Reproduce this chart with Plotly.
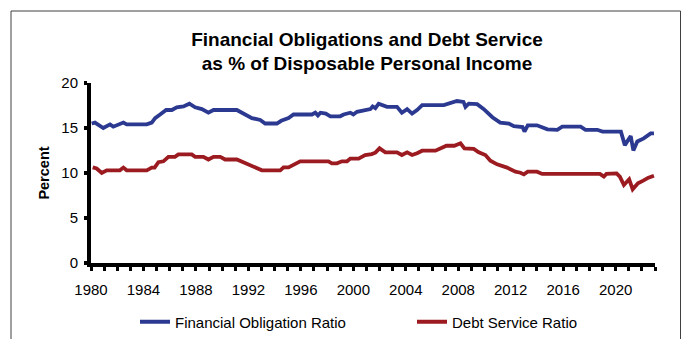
import plotly.graph_objects as go

# ---- data ----
for_years = [1980.05, 1980.3, 1980.94, 1981.45, 1981.7, 1982.47, 1982.72, 1984.25, 1984.63, 1984.89,
             1985.27, 1985.73, 1986.16, 1986.54, 1987.05, 1987.5, 1987.94, 1988.45, 1988.95, 1989.34,
             1991.12, 1991.37, 1991.76, 1992.27, 1992.9, 1993.28, 1994.17, 1994.5, 1995.06, 1995.44,
             1996.85, 1997.1, 1997.3, 1997.5, 1997.9, 1998.25, 1999.0, 1999.26, 1999.77, 2000.0,
             2000.28, 2000.79, 2001.3, 2001.47, 2001.68, 2001.93, 2002.2, 2002.57, 2003.33, 2003.7,
             2004.1, 2004.48, 2004.86, 2005.25, 2006.9, 2007.2, 2007.9, 2008.4, 2008.55, 2008.8,
             2009.44, 2009.95, 2010.6, 2011.2, 2011.86, 2012.24, 2012.9, 2013.05, 2013.3, 2014.0,
             2014.8, 2015.55, 2015.93, 2017.33, 2017.7, 2018.6, 2019.0, 2020.4, 2020.7, 2021.15,
             2021.35, 2021.65, 2022.14, 2022.67, 2022.92]
for_values = [15.5, 15.6, 15.0, 15.4, 15.15, 15.6, 15.4, 15.4, 15.6, 16.1,
              16.5, 17.0, 17.0, 17.3, 17.4, 17.7, 17.3, 17.1, 16.7, 17.0,
              17.0, 16.8, 16.6, 16.1, 15.9, 15.5, 15.5, 15.8, 16.1, 16.5,
              16.5, 16.7, 16.4, 16.7, 16.6, 16.3, 16.3, 16.5, 16.7, 16.5,
              16.8, 16.95, 17.1, 17.4, 17.2, 17.7, 17.55, 17.35, 17.35, 16.7,
              17.1, 16.6, 17.0, 17.55, 17.55, 17.7, 18.0, 17.9, 17.35, 17.7,
              17.65, 17.1, 16.2, 15.6, 15.5, 15.2, 15.1, 14.6, 15.3, 15.3,
              14.85, 14.8, 15.15, 15.15, 14.8, 14.8, 14.6, 14.6, 13.1, 14.1,
              12.5, 13.5, 13.85, 14.4, 14.4]

dsr_years = [1980.13, 1980.43, 1980.82, 1981.2, 1982.2, 1982.47, 1982.72, 1984.25, 1984.63, 1984.85,
             1985.14, 1985.52, 1985.9, 1986.4, 1986.66, 1987.68, 1987.94, 1988.57, 1988.95, 1989.34,
             1989.85, 1990.23, 1991.12, 1991.5, 1991.88, 1992.39, 1993.03, 1994.43, 1994.68, 1995.06,
             1995.44, 1995.95, 1998.1, 1998.37, 1998.75, 1999.13, 1999.52, 1999.77, 2000.4, 2000.9,
             2001.4, 2001.68, 2002.0, 2002.44, 2003.33, 2003.7, 2004.1, 2004.48, 2004.86, 2005.25,
             2006.26, 2006.64, 2007.1, 2007.7, 2008.17, 2008.47, 2009.18, 2009.56, 2010.07, 2010.45,
             2010.96, 2011.72, 2012.36, 2012.74, 2013.0, 2013.3, 2014.0, 2014.4, 2018.8, 2019.1,
             2019.3, 2020.07, 2020.32, 2020.63, 2021.03, 2021.3, 2021.7, 2022.1, 2022.5, 2022.92]
dsr_values = [10.63, 10.5, 10.0, 10.3, 10.3, 10.6, 10.3, 10.3, 10.6, 10.6,
              11.2, 11.3, 11.8, 11.8, 12.07, 12.07, 11.8, 11.8, 11.5, 11.8,
              11.8, 11.5, 11.5, 11.25, 11.07, 10.7, 10.3, 10.3, 10.63, 10.63,
              10.96, 11.3, 11.3, 11.07, 11.07, 11.3, 11.3, 11.6, 11.6, 12.0,
              12.1, 12.26, 12.74, 12.3, 12.3, 12.0, 12.3, 12.0, 12.2, 12.48,
              12.48, 12.74, 13.03, 13.03, 13.3, 12.74, 12.67, 12.3, 12.0, 11.37,
              10.96, 10.6, 10.15, 10.03, 9.85, 10.15, 10.15, 9.9, 9.9, 9.6,
              9.9, 9.96, 9.6, 8.67, 9.3, 8.19, 8.85, 9.15, 9.48, 9.7]

x_tick_years = list(range(1980, 2024))
x_tick_labels = [str(y) if (y - 1980) % 4 == 0 and y <= 2020 else "" for y in x_tick_years]
y_tick_values = [0, 5, 10, 15, 20]

series_names = ["Financial Obligation Ratio", "Debt Service Ratio"]
title_text = "Financial Obligations and Debt Service<br>as % of Disposable Personal Income"

FONT = "Liberation Sans, Arial, sans-serif"

fig = go.Figure()
fig.add_trace(go.Scatter(x=for_years, y=for_values, mode="lines", name=series_names[0],
                         line=dict(color="#2B3990", width=3.8)))
fig.add_trace(go.Scatter(x=dsr_years, y=dsr_values, mode="lines", name=series_names[1],
                         line=dict(color="#9B1B20", width=3.8)))

W, H = 688, 339
ml, mr, mt, mb = 91, 33, 83, 76
pw, ph = W - ml - mr, H - mt - mb

def px_x(p):
    return (p - ml) / pw

def px_y(p):
    return (H - mb - p) / ph

fig.update_layout(
    width=W, height=H,
    margin=dict(l=ml, r=mr, t=mt, b=mb, pad=0, autoexpand=False),
    paper_bgcolor="white", plot_bgcolor="white",
    font=dict(family=FONT, color="black", size=15),
    title=dict(text="<b>" + title_text + "</b>", font=dict(size=19, family=FONT, color="black"),
               x=px_x(367), xref="paper", xanchor="center",
               y=1 - 45.5 / H, yref="container", yanchor="middle"),
    showlegend=True,
    legend=dict(orientation="h", x=px_x(135), xanchor="left", y=px_y(322), yanchor="middle",
                font=dict(size=15, family=FONT), entrywidth=232, entrywidthmode="pixels",
                bgcolor="rgba(0,0,0,0)", itemclick=False),
    xaxis=dict(range=[1980, 2023], tickmode="array", tickvals=x_tick_years, ticktext=x_tick_labels,
               showgrid=False, zeroline=False, showline=True, linecolor="black", linewidth=4,
               ticks="outside", ticklen=4, tickwidth=3, tickcolor="black",
               tickfont=dict(size=15, family=FONT), ticklabelstandoff=6, fixedrange=True),
    yaxis=dict(range=[0, 20], tickmode="array", tickvals=y_tick_values,
               showgrid=False, zeroline=False, showline=True, linecolor="black", linewidth=4,
               ticks="outside", ticklen=3, tickwidth=4, tickcolor="black",
               tickfont=dict(size=15, family=FONT), ticklabelstandoff=3,
               title=dict(text="<b>Percent</b>", font=dict(size=14.5, family=FONT), standoff=9),
               fixedrange=True),
    shapes=[dict(type="rect", xref="paper", yref="paper",
                 x0=px_x(11), x1=px_x(680.5), y0=px_y(360), y1=px_y(11),
                 line=dict(color="#404040", width=1), fillcolor="rgba(0,0,0,0)", layer="below")],
)

fig.write_html("out.html")
